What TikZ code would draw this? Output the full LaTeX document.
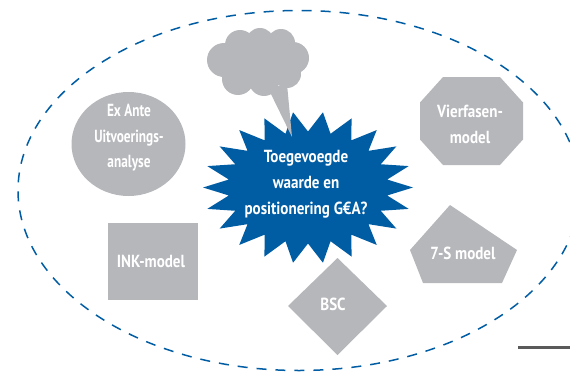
\documentclass[tikz,border=0pt]{standalone}
\usepackage{fontspec}
\setmainfont{PT Sans}[FakeStretch=0.86]
\newfontfamily\narrowlbl{PT Sans}[FakeStretch=0.76]
\definecolor{gbblue}{RGB}{0,93,164}
\definecolor{gbgray}{RGB}{182,183,187}
\definecolor{gbdark}{RGB}{90,90,90}
\tikzset{
  lbl/.style={text=white,font=\bfseries\fontsize{17.5}{26}\selectfont,align=center,inner sep=0pt},
  narrow/.style={font=\narrowlbl\bfseries\fontsize{17.5}{25.5}\selectfont}
}
\begin{document}
\begin{tikzpicture}[x=1pt,y=-1pt]
\useasboundingbox (0,0) rectangle (570,372);
% dashed ellipse
\draw[gbblue,line width=1.5pt,dash pattern=on 10pt off 9pt] (299,190.5) ellipse [x radius=281,y radius=180];
% circle
\fill[gbgray] (128.5,144) ellipse [x radius=57,y radius=52];
\node[lbl,narrow] (exante) at (129,138) {Ex Ante\\Uitvoerings-\\analyse};
% octagon
\fill[gbgray] (443,77) -- (500,77) -- (523,102.5) -- (523,139.5) -- (500,165) -- (443,165) -- (420,139.5) -- (420,102.5) -- cycle;
\node[lbl] (vier) at (470,124.5) {Vierfasen-\\model};
% pentagon
\fill[gbgray] (450,205) -- (517,250) -- (502,283) -- (423,283) -- (410,250) -- cycle;
\node[lbl] (sevens) at (463,253) {7-S model};
% square
\fill[gbgray] (108,223) rectangle (198,300);
\node[lbl] (ink) at (151,261) {INK-model};
% diamond
\fill[gbgray] (337.5,258) -- (387,306) -- (337.5,355) -- (288,306) -- cycle;
\node[lbl] (bsc) at (333,304) {BSC};
% star
\fill[gbblue] (413,187.5) \foreach \k in {1,...,43} { -- ({308+ifthenelse(isodd(\k),80,105)*cos(\k*360/44)},{187.5+ifthenelse(isodd(\k),56,76)*sin(\k*360/44)}) } -- cycle;
\node[lbl] (vraag) at (306,184.5) {Toegevoegde\\waarde en\\positionering G€A?};
% cloud
\begin{scope}[gbgray]
\fill (258,62) ellipse [x radius=44,y radius=26];
\fill (224,60) circle (17);
\fill (240,45) circle (15);
\fill (260,42) circle (14);
\fill (281,43) circle (14);
\fill (293,58) circle (16);
\fill (287,74) circle (14);
\fill (264,81) circle (15);
\fill (238,79) circle (16);
\fill (268,88) -- (287,84) -- (292,137) -- cycle;
\end{scope}
\coordinate (lineA) at (518,347);
\coordinate (lineB) at (570,347);
\draw[gbdark,line width=3pt] (lineA) -- (lineB);
\end{tikzpicture}
\end{document}
